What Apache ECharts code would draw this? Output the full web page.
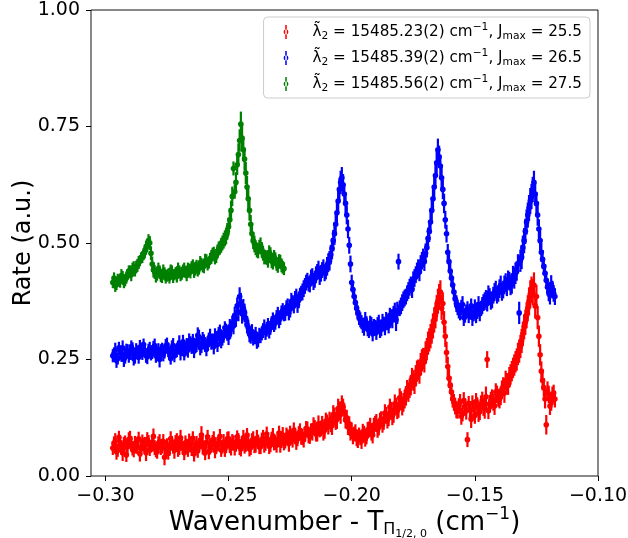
<!DOCTYPE html>
<html><head><meta charset="utf-8">
<script src="https://cdn.jsdelivr.net/npm/echarts@6/dist/echarts.min.js"></script>
<style>html,body{margin:0;padding:0;background:#fff}#c{width:628px;height:538px}</style>
</head><body><div id="c"></div>
<script>
// x positions (cm^-1) for red and blue scans, first pass
const xRB = [
-0.297,-0.296,-0.295,-0.294,-0.293,-0.292,-0.291,-0.290,-0.289,-0.288,
-0.287,-0.286,-0.285,-0.284,-0.283,-0.282,-0.281,-0.280,-0.279,-0.278,
-0.277,-0.276,-0.275,-0.274,-0.273,-0.272,-0.271,-0.270,-0.269,-0.268,
-0.267,-0.266,-0.265,-0.264,-0.263,-0.262,-0.261,-0.260,-0.259,-0.258,
-0.257,-0.256,-0.255,-0.254,-0.253,-0.252,-0.251,-0.250,-0.249,-0.248,
-0.247,-0.246,-0.245,-0.244,-0.243,-0.242,-0.241,-0.240,-0.239,-0.238,
-0.237,-0.236,-0.235,-0.234,-0.233,-0.232,-0.231,-0.230,-0.229,-0.228,
-0.227,-0.226,-0.225,-0.224,-0.223,-0.222,-0.221,-0.220,-0.219,-0.218,
-0.217,-0.216,-0.215,-0.214,-0.213,-0.212,-0.211,-0.210,-0.209,-0.208,
-0.207,-0.206,-0.205,-0.204,-0.203,-0.202,-0.201,-0.200,-0.199,-0.198,
-0.197,-0.196,-0.195,-0.194,-0.193,-0.192,-0.191,-0.190,-0.189,-0.188,
-0.187,-0.186,-0.185,-0.184,-0.183,-0.182,-0.181,-0.180,-0.179,-0.178,
-0.177,-0.176,-0.175,-0.174,-0.173,-0.172,-0.171,-0.170,-0.169,-0.168,
-0.167,-0.166,-0.165,-0.164,-0.163,-0.162,-0.161,-0.160,-0.159,-0.158,
-0.157,-0.156,-0.155,-0.154,-0.153,-0.152,-0.151,-0.150,-0.149,-0.148,
-0.147,-0.146,-0.145,-0.144,-0.143,-0.142,-0.141,-0.140,-0.139,-0.138,
-0.137,-0.136,-0.135,-0.134,-0.133,-0.132,-0.131,-0.130,-0.129,-0.128,
-0.127,-0.126,-0.125,-0.124,-0.123,-0.122,-0.121,-0.120,-0.119,-0.118];
// x positions, second pass (between the first-pass points)
const xRB2 = [
-0.2965,-0.2955,-0.2945,-0.2935,-0.2925,-0.2915,-0.2905,-0.2895,-0.2885,-0.2875,
-0.2865,-0.2855,-0.2845,-0.2835,-0.2825,-0.2815,-0.2805,-0.2795,-0.2785,-0.2775,
-0.2765,-0.2755,-0.2745,-0.2735,-0.2725,-0.2715,-0.2705,-0.2695,-0.2685,-0.2675,
-0.2665,-0.2655,-0.2645,-0.2635,-0.2625,-0.2615,-0.2605,-0.2595,-0.2585,-0.2575,
-0.2565,-0.2555,-0.2545,-0.2535,-0.2525,-0.2515,-0.2505,-0.2495,-0.2485,-0.2475,
-0.2465,-0.2455,-0.2445,-0.2435,-0.2425,-0.2415,-0.2405,-0.2395,-0.2385,-0.2375,
-0.2365,-0.2355,-0.2345,-0.2335,-0.2325,-0.2315,-0.2305,-0.2295,-0.2285,-0.2275,
-0.2265,-0.2255,-0.2245,-0.2235,-0.2225,-0.2215,-0.2205,-0.2195,-0.2185,-0.2175,
-0.2165,-0.2155,-0.2145,-0.2135,-0.2125,-0.2115,-0.2105,-0.2095,-0.2085,-0.2075,
-0.2065,-0.2055,-0.2045,-0.2035,-0.2025,-0.2015,-0.2005,-0.1995,-0.1985,-0.1975,
-0.1965,-0.1955,-0.1945,-0.1935,-0.1925,-0.1915,-0.1905,-0.1895,-0.1885,-0.1875,
-0.1865,-0.1855,-0.1845,-0.1835,-0.1825,-0.1815,-0.1805,-0.1795,-0.1785,-0.1775,
-0.1765,-0.1755,-0.1745,-0.1735,-0.1725,-0.1715,-0.1705,-0.1695,-0.1685,-0.1675,
-0.1665,-0.1655,-0.1645,-0.1635,-0.1625,-0.1615,-0.1605,-0.1595,-0.1585,-0.1575,
-0.1565,-0.1555,-0.1545,-0.1535,-0.1525,-0.1515,-0.1505,-0.1495,-0.1485,-0.1475,
-0.1465,-0.1455,-0.1445,-0.1435,-0.1425,-0.1415,-0.1405,-0.1395,-0.1385,-0.1375,
-0.1365,-0.1355,-0.1345,-0.1335,-0.1325,-0.1315,-0.1305,-0.1295,-0.1285,-0.1275,
-0.1265,-0.1255,-0.1245,-0.1235,-0.1225,-0.1215,-0.1205,-0.1195,-0.1185,-0.1175];

const redY = [
.060,.075,.055,.068,.050,.072,.063,.080,.058,.070,
.062,.048,.074,.066,.078,.057,.069,.061,.052,.073,
.064,.040,.067,.059,.071,.055,.076,.062,.068,.050,
.065,.074,.058,.047,.070,.063,.088,.060,.072,.053,
.066,.079,.061,.069,.056,.073,.064,.078,.060,.071,
.066,.075,.058,.082,.067,.072,.061,.079,.068,.074,
.063,.081,.070,.076,.066,.085,.072,.079,.068,.088,
.075,.082,.092,.078,.086,.080,.095,.084,.090,.099,
.086,.094,.104,.092,.100,.110,.098,.115,.120,.108,
.128,.122,.140,.155,.138,.125,.112,.098,.090,.082,
.088,.075,.092,.086,.100,.094,.108,.115,.105,.122,
.118,.130,.125,.140,.134,.150,.145,.162,.158,.172,
.180,.195,.205,.215,.228,.240,.252,.265,.285,.300,
.322,.345,.375,.395,.370,.300,.235,.195,.165,.150,
.140,.158,.135,.148,.078,.142,.155,.130,.150,.138,
.162,.145,.250,.155,.168,.150,.175,.165,.185,.178,
.200,.212,.225,.238,.250,.268,.290,.320,.345,.375,
.400,.410,.385,.300,.225,.190,.110,.175,.160,.178];
const redY2 = [
.070,.052,.083,.061,.066,.045,.078,.069,.054,.064,
.080,.059,.067,.050,.072,.064,.085,.056,.070,.062,
.074,.058,.049,.080,.063,.070,.057,.082,.060,.071,
.056,.068,.081,.062,.055,.077,.065,.050,.084,.063,
.072,.055,.070,.085,.063,.058,.080,.067,.074,.060,
.084,.062,.070,.065,.088,.058,.076,.066,.081,.062,
.077,.068,.090,.064,.080,.073,.066,.092,.078,.072,
.088,.070,.084,.098,.074,.091,.085,.078,.102,.088,
.096,.108,.090,.112,.102,.095,.118,.106,.112,.132,
.118,.145,.132,.148,.120,.105,.092,.085,.095,.078,
.082,.095,.079,.098,.108,.088,.112,.100,.118,.110,
.135,.120,.148,.128,.155,.140,.168,.150,.165,.185,
.188,.210,.198,.225,.220,.248,.245,.272,.292,.310,
.335,.360,.385,.360,.330,.265,.210,.180,.158,.142,
.150,.128,.162,.140,.156,.122,.145,.160,.135,.155,
.148,.170,.140,.162,.158,.180,.168,.172,.192,.205,
.195,.218,.232,.245,.262,.278,.305,.330,.360,.390,
.395,.365,.340,.260,.205,.165,.182,.150,.172,.165];
const redErr = [
.015,.017,.014,.016,.018,.015,.016,.017,.014,.016,.015,.017,.015,.018,.016,.014,.017,.016,.015,.017,
.016,.017,.014,.016,.015,.018,.016,.017,.014,.016,.015,.017,.015,.016,.016,.014,.019,.016,.015,.017,
.016,.017,.014,.016,.015,.017,.015,.018,.016,.016,.014,.017,.016,.017,.015,.016,.016,.017,.018,.015,
.016,.018,.016,.017,.015,.018,.016,.016,.018,.017,.016,.018,.016,.017,.018,.016,.018,.017,.016,.018,
.017,.018,.016,.018,.017,.019,.018,.017,.018,.020,.019,.021,.020,.018,.018,.017,.016,.017,.016,.018,
.016,.017,.016,.018,.017,.018,.017,.018,.018,.017,.019,.018,.018,.019,.020,.018,.020,.020,.020,.021,
.021,.022,.022,.023,.022,.024,.023,.024,.025,.026,.027,.028,.027,.025,.024,.023,.021,.019,.018,.018,
.017,.018,.018,.019,.016,.019,.018,.018,.019,.018,.019,.022,.018,.019,.018,.019,.019,.020,.020,.021,
.021,.022,.022,.023,.024,.025,.026,.027,.028,.030,.028,.027,.025,.023,.021,.020,.021,.019,.020,.018];

const blueY = [
.258,.270,.252,.265,.275,.255,.268,.262,.272,.258,
.266,.276,.262,.270,.256,.274,.266,.280,.262,.250,
.272,.268,.282,.265,.275,.258,.270,.285,.273,.262,
.280,.290,.275,.268,.283,.298,.278,.288,.272,.292,
.285,.278,.295,.305,.290,.300,.312,.298,.315,.322,
.338,.352,.372,.360,.338,.318,.300,.295,.305,.292,
.300,.312,.308,.322,.318,.335,.330,.345,.340,.355,
.350,.365,.358,.372,.380,.368,.388,.395,.408,.420,
.412,.430,.422,.438,.428,.442,.436,.450,.462,.488,
.520,.565,.615,.640,.605,.560,.495,.415,.385,.360,
.340,.330,.318,.328,.312,.325,.320,.308,.330,.318,
.326,.335,.322,.340,.348,.335,.460,.365,.378,.385,
.398,.410,.420,.432,.445,.455,.468,.478,.510,.545,
.595,.645,.700,.665,.615,.550,.480,.440,.410,.380,
.362,.350,.368,.345,.358,.352,.340,.362,.355,.348,
.366,.375,.370,.385,.378,.395,.388,.402,.395,.410,
.405,.418,.412,.425,.440,.350,.470,.505,.545,.575,
.600,.630,.585,.530,.480,.450,.420,.395,.412,.392];
const blueY2 = [
.262,.248,.275,.260,.250,.270,.258,.278,.252,.268,
.255,.270,.282,.258,.268,.262,.275,.258,.272,.266,
.260,.278,.270,.252,.280,.268,.276,.265,.288,.275,
.270,.284,.292,.280,.302,.275,.295,.282,.285,.300,
.292,.300,.282,.310,.296,.318,.305,.320,.328,.345,
.365,.385,.348,.350,.325,.305,.310,.298,.288,.302,
.306,.320,.315,.312,.328,.325,.340,.335,.350,.348,
.360,.350,.375,.365,.385,.378,.392,.402,.415,.412,
.425,.415,.432,.445,.435,.448,.440,.458,.475,.505,
.540,.590,.630,.625,.585,.530,.455,.400,.372,.350,
.335,.322,.335,.315,.328,.305,.318,.325,.312,.330,
.318,.330,.345,.335,.355,.350,.360,.372,.382,.392,
.405,.400,.425,.440,.438,.462,.460,.490,.525,.570,
.620,.672,.685,.640,.585,.520,.460,.425,.395,.370,
.355,.362,.340,.352,.345,.365,.350,.345,.368,.360,
.372,.380,.392,.375,.388,.400,.392,.410,.400,.415,
.422,.408,.430,.435,.455,.462,.490,.525,.560,.590,
.615,.605,.560,.505,.465,.435,.405,.388,.400,.385];
const blueErr = [
.014,.016,.013,.015,.016,.014,.015,.013,.015,.017,.014,.016,.013,.015,.016,.014,.015,.015,.013,.017,
.014,.016,.015,.013,.016,.014,.015,.017,.015,.014,.016,.016,.013,.015,.017,.016,.014,.016,.015,.016,
.014,.017,.016,.015,.016,.014,.015,.017,.016,.018,.018,.020,.021,.020,.019,.018,.016,.015,.015,.016,
.015,.016,.016,.017,.015,.016,.016,.018,.016,.016,.017,.016,.018,.016,.017,.018,.016,.018,.017,.016,
.018,.016,.018,.017,.018,.017,.018,.020,.021,.023,.024,.026,.025,.023,.022,.020,.018,.017,.016,.016,
.016,.015,.017,.015,.016,.016,.017,.016,.016,.018,.016,.017,.016,.018,.017,.024,.017,.018,.018,.017,
.018,.018,.019,.018,.020,.019,.020,.021,.023,.025,.027,.026,.024,.023,.021,.019,.018,.017,.016,.018,
.017,.016,.018,.016,.017,.016,.018,.017,.018,.016,.018,.019,.017,.018,.018,.019,.018,.020,.019,.020,
.019,.020,.021,.023,.021,.024,.026,.027,.027,.028,.027,.025,.023,.021,.020,.019,.018,.020,.019,.018];

// green scan x positions (two passes)
const xG = [
-0.297,-0.296,-0.295,-0.294,-0.293,-0.292,-0.291,-0.290,-0.289,-0.288,
-0.287,-0.286,-0.285,-0.284,-0.283,-0.282,-0.281,-0.280,-0.279,-0.278,
-0.277,-0.276,-0.275,-0.274,-0.273,-0.272,-0.271,-0.270,-0.269,-0.268,
-0.267,-0.266,-0.265,-0.264,-0.263,-0.262,-0.261,-0.260,-0.259,-0.258,
-0.257,-0.256,-0.255,-0.254,-0.253,-0.252,-0.251,-0.250,-0.249,-0.248,
-0.247,-0.246,-0.245,-0.244,-0.243,-0.242,-0.241,-0.240,-0.239,-0.238,
-0.237,-0.236,-0.235,-0.234,-0.233,-0.232,-0.231,-0.230,-0.229,-0.228];
const xG2 = [
-0.2965,-0.2955,-0.2945,-0.2935,-0.2925,-0.2915,-0.2905,-0.2895,-0.2885,-0.2875,
-0.2865,-0.2855,-0.2845,-0.2835,-0.2825,-0.2815,-0.2805,-0.2795,-0.2785,-0.2775,
-0.2765,-0.2755,-0.2745,-0.2735,-0.2725,-0.2715,-0.2705,-0.2695,-0.2685,-0.2675,
-0.2665,-0.2655,-0.2645,-0.2635,-0.2625,-0.2615,-0.2605,-0.2595,-0.2585,-0.2575,
-0.2565,-0.2555,-0.2545,-0.2535,-0.2525,-0.2515,-0.2505,-0.2495,-0.2485,-0.2475,
-0.2465,-0.2455,-0.2445,-0.2435,-0.2425,-0.2415,-0.2405,-0.2395,-0.2385,-0.2375,
-0.2365,-0.2355,-0.2345,-0.2335,-0.2325,-0.2315,-0.2305,-0.2295,-0.2285,-0.2275];
const greenY = [
.415,.408,.422,.418,.428,.420,.432,.438,.445,.440,
.452,.462,.470,.482,.495,.500,.455,.438,.432,.440,
.428,.436,.430,.425,.438,.432,.428,.440,.435,.445,
.430,.442,.448,.440,.452,.446,.455,.450,.462,.458,
.470,.478,.472,.488,.495,.505,.515,.535,.570,.660,
.630,.690,.755,.700,.650,.595,.540,.505,.490,.482,
.495,.478,.470,.462,.475,.458,.465,.450,.460,.448];
const greenY2 = [
.425,.412,.418,.430,.415,.426,.440,.432,.448,.450,
.458,.468,.476,.490,.505,.478,.442,.430,.445,.428,
.440,.425,.432,.442,.428,.436,.445,.430,.440,.438,
.446,.438,.452,.445,.440,.458,.450,.462,.455,.466,
.475,.468,.482,.490,.500,.510,.525,.550,.600,.610,
.668,.720,.725,.680,.620,.570,.520,.498,.485,.492,
.485,.470,.468,.480,.462,.470,.455,.462,.452,.445];
const greenErr = [
.012,.013,.012,.014,.012,.013,.012,.014,.013,.012,.014,.012,.013,.015,.014,.015,.016,.015,.013,.012,
.014,.012,.013,.012,.014,.012,.013,.012,.014,.013,.012,.014,.013,.015,.012,.014,.013,.015,.014,.013,
.015,.014,.015,.015,.016,.017,.018,.019,.021,.015,.022,.024,.027,.025,.024,.022,.020,.018,.016,.015,
.017,.016,.015,.015,.016,.015,.015,.014,.015,.014];

const xTicks = [-0.30, -0.25, -0.20, -0.15, -0.10];
const lambdaLabels = ['15485.23(2)', '15485.39(2)', '15485.56(2)'];
const jmaxLabels = ['25.5', '26.5', '27.5'];
const colors = ['#ff0000', '#0000ff', '#008000'];

const FONT = 'DejaVu Sans';
const names = lambdaLabels.map((l, i) => 'λ̃2 = ' + l + ' cm−1, Jmax = ' + jmaxLabels[i]);

function build(xs, ys, es) { return xs.map((x, i) => [x, ys[i], es[i]]); }
const datasets = [
  build(xRB, redY, redErr).concat(build(xRB2, redY2, redErr)),
  build(xRB, blueY, blueErr).concat(build(xRB2, blueY2, blueErr)),
  build(xG, greenY, greenErr).concat(build(xG2, greenY2, greenErr))
];

const icon = 'path://M2.4,0h2.2v20h-2.2z M0,10a3.5,3.5 0 1,0 7,0a3.5,3.5 0 1,0 -7,0z';

const chart = echarts.init(document.getElementById('c'), null, {renderer: 'canvas'});
chart.setOption({
  animation: false,
  backgroundColor: '#fff',
  grid: {left: 91, right: 30, top: 10, bottom: 62, show: true, borderColor: '#111', borderWidth: 1,
    backgroundColor: 'transparent', containLabel: false, outerBoundsMode: 'none'},
  xAxis: {
    type: 'value', min: -0.30585, max: -0.10,
    name: '{b|Wavenumber - T}{s1|Π}{s2|1/2, 0}{b| (cm}{sup|−1}{b|)}',
    nameLocation: 'middle', nameGap: 32, nameMoveOverlap: false,
    nameTextStyle: {
      fontFamily: FONT, fontSize: 26, color: '#000',
      rich: {
        b: {fontFamily: FONT, fontSize: 26, lineHeight: 30, color: '#000'},
        s1: {fontFamily: FONT, fontSize: 16, lineHeight: 17, padding: [13, 0, 0, 0], color: '#000'},
        s2: {fontFamily: FONT, fontSize: 11, lineHeight: 12, padding: [22, 0, 0, 0], color: '#000'},
        sup: {fontFamily: FONT, fontSize: 17, lineHeight: 18, padding: [0, 0, 17, 0], color: '#000'}
      }
    },
    axisLine: {show: false},
    splitLine: {show: false},
    axisTick: {show: true, inside: false, length: 5, customValues: xTicks, lineStyle: {color: '#000', width: 1}},
    axisLabel: {customValues: xTicks, margin: 11, fontFamily: FONT, fontSize: 19, color: '#000',
      formatter: v => (v < 0 ? '−' : '') + Math.abs(v).toFixed(2)}
  },
  yAxis: {
    type: 'value', min: 0, max: 1, interval: 0.25,
    name: 'Rate (a.u.)', nameLocation: 'middle', nameGap: 55, nameRotate: 90, nameMoveOverlap: false,
    nameTextStyle: {fontFamily: FONT, fontSize: 24, color: '#000'},
    axisLine: {show: false},
    splitLine: {show: false},
    axisTick: {show: true, inside: false, length: 5, lineStyle: {color: '#000', width: 1}},
    axisLabel: {margin: 11, fontFamily: FONT, fontSize: 19, color: '#000', formatter: v => v.toFixed(2)}
  },
  legend: {
    orient: 'vertical', right: 38, top: 17,
    padding: [5, 8, 4, 20], itemGap: 6, itemWidth: 5, itemHeight: 14,
    backgroundColor: 'rgba(255,255,255,0.8)', borderColor: '#cccccc', borderWidth: 1, borderRadius: 4,
    data: names.map(n => ({name: n, icon: icon})),
    formatter: name => {
      const i = names.indexOf(name);
      return '{first|λ̃}{sub|2}{b| = ' + lambdaLabels[i] + ' cm}{sup|−1}{b|, J}{sub|max}{b| = ' + jmaxLabels[i] + '}';
    },
    textStyle: {
      fontFamily: FONT, fontSize: 15.2, color: '#000',
      rich: {
        first: {fontFamily: FONT, fontSize: 15.2, lineHeight: 18, padding: [0, 0, 0, 19], color: '#000'},
        b: {fontFamily: FONT, fontSize: 15.2, lineHeight: 18, color: '#000'},
        sub: {fontFamily: FONT, fontSize: 10.7, lineHeight: 12, padding: [8, 0, 0, 0], color: '#000'},
        sup: {fontFamily: FONT, fontSize: 10.7, lineHeight: 12, padding: [0, 0, 9, 0], color: '#000'}
      }
    }
  },
  series: datasets.map((d, si) => ({
    type: 'custom', name: names[si], data: d, clip: true,
    itemStyle: {color: colors[si]},
    encode: {x: 0, y: 1},
    renderItem: (params, api) => {
      const x = api.value(0), y = api.value(1), e = api.value(2);
      const p = api.coord([x, y]);
      const lo = api.coord([x, y - e]);
      const hi = api.coord([x, y + e]);
      return {type: 'group', children: [
        {type: 'line', shape: {x1: p[0], y1: hi[1], x2: p[0], y2: lo[1]}, style: {stroke: colors[si], lineWidth: 2.2}},
        {type: 'circle', shape: {cx: p[0], cy: p[1], r: 2.8}, style: {fill: colors[si]}}
      ]};
    }
  }))
});
</script>
</body></html>
